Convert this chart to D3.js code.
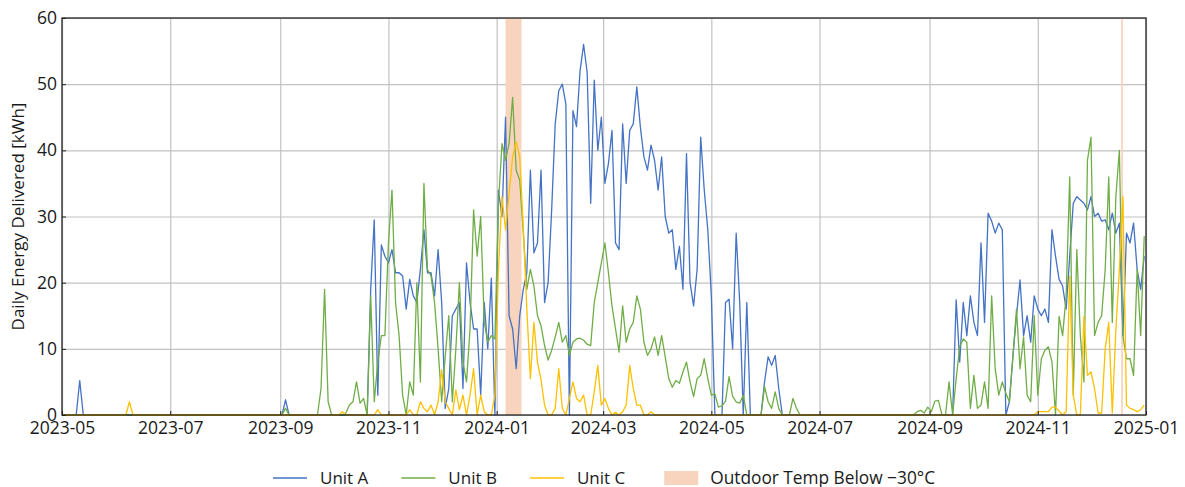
<!DOCTYPE html>
<html>
<head>
<meta charset="utf-8">
<script src="https://cdn.jsdelivr.net/npm/d3@7"></script>
<style>
    body { margin: 0; background: #fff; }
    text { font-family: "Open Sans", sans-serif; fill: #1a1a1a; }
</style>
</head>
<body>
<div id="chart"></div>
<script>
// daily energy, one value every 2 days starting 2023-05-01
const startDate = "2023-05-01";
const stepDays = 2;

const unitA = [
    0,0,0,0,0,5.2,0,0,0,0,
    0,0,0,0,0,0,0,0,0,0,
    0,0,0,0,0,0,0,0,0,0,
    0,0,0,0,0,0,0,0,0,0,
    0,0,0,0,0,0,0,0,0,0,
    0,0,0,0,0,0,0,0,0,0,
    0,0,0,2.3,0,0,0,0,0,0,
    0,0,0,0,0,0,0,0,0,0,
    0,0,0,0,0,0,0,19,29.5,3,
    25.7,24,23,25,21.5,21.5,21,16,20.5,18,
    17,22,28,21.5,21.5,18,25,17,1,4,
    15,16,17,4,23,17,13,13,3,17,
    10,20.7,0,34,30,45,15,13,7,15,
    19,21.5,37,24.5,26,37,17,20,31,44,
    49,50,47,0,46,43.6,52,56,51.8,32,
    50.6,40,45,35,38,43,26,25,44,35,
    43,44,49.6,43.5,39,37,40.8,38.5,34,39,
    30,27.5,28,22,25.5,19,39.5,20,16.5,22,
    42,34,28,18,0,0,0,17,17.5,10,
    27.5,17,0,17,0,0,0,0,5,8.8,
    7.5,9,4,0,0,0,0,0,0,0,
    0,0,0,0,0,0,0,0,0,0,
    0,0,0,0,0,0,0,0,0,0,
    0,0,0,0,0,0,0,0,0,0,
    0,0,0,0,0,0,0,0,0,0,
    0,0,17.4,8,17,12,18,14,12,26,
    14,30.5,29.3,27.5,29,28,0,2,9,15,
    20.4,12,15,11,18,16,15,16,14,28,
    24,20.5,19.5,16,24,32,33,32.5,32,31,
    33,30,30.5,29.3,29.5,28,30.5,27.5,29,12,
    27.5,26,29,22,19,24
];

const unitB = [
    0,0,0,0,0,0,0,0,0,0,
    0,0,0,0,0,0,0,0,0,0,
    0,0,0,0,0,0,0,0,0,0,
    0,0,0,0,0,0,0,0,0,0,
    0,0,0,0,0,0,0,0,0,0,
    0,0,0,0,0,0,0,0,0,0,
    0,0,0,1,0,0,0,0,0,0,
    0,0,0,4,19,2,0,0,0,0,
    0.3,1.5,2,5,1.8,2.5,0,18,2,8,
    12,12,26,34,17,12,3,0,5,3,
    20,5,35,22,21,17,10,2,8.8,15,
    2,10,20,8,5,13,31,24,30,14,
    11,12,11.5,32,41,38.5,41,48,37,35.5,
    27.5,19,22,19.5,15,13.5,10.5,8.3,9.8,11.8,
    14,11,12,9,11,11.5,11.6,11.3,10.7,10.5,
    17,20,23,26,21.5,16.5,13,9.5,16.5,11,
    13,14,18,16,11,9,10,11.8,9,12,
    8.8,5.5,4.2,5.2,4.8,6.5,8,5,2.8,5.5,
    6,8.5,5.5,3,3.2,1.2,1.4,2.1,5.8,2.8,
    2,1.8,3,0,0,0,0,0,4.3,2,
    1,3.5,1,0,0,0,2.5,1,0,0,
    0,0,0,0,0,0,0,0,0,0,
    0,0,0,0,0,0,0,0,0,0,
    0,0,0,0,0,0,0,0,0,0,
    0,0.5,0.7,0.3,1.2,0.5,2.1,2.2,0,0,
    5,0,5.5,10.3,11.5,11,1,6,1,1.5,
    5,1,18,7,3,5,3.3,2,8.8,16,
    7,11.8,3,2,15,3,8.5,9.8,10.3,8,
    0,14.9,12,18,36,3,25,12,5,38.5,
    42,12,14,15,22,36,14,33,40,12,
    8.5,8.5,6,22,12,27
];

const unitC = [
    0,0,0,0,0,0,0,0,0,0,
    0,0,0,0,0,0,0,0,0,2,
    0,0,0,0,0,0,0,0,0,0,
    0,0,0,0,0,0,0,0,0,0,
    0,0,0,0,0,0,0,0,0,0,
    0,0,0,0,0,0,0,0,0,0,
    0,0,0,0,0,0,0,0,0,0,
    0,0,0,0,0,0,0,0,0,0.5,
    0,0,0,0,0,0,0,0,0,0.8,
    0,0,0,0,0,0,0,0,0.8,0,
    0,2,1,0.5,1.5,0,2,6.8,2,1,
    0,3.8,0.8,3,0,3,7,0,3,0.5,
    0,0,3,22,33,28,33.5,39,41.3,39,
    28.5,16,5.5,14,8,5.3,1.5,0,0,1,
    7,1,0,2.5,5,2.5,2,3,0,0,
    3.5,7.5,1.5,2.5,1,0,0.4,0,0.5,1.5,
    7.5,4,1.5,1.5,0,0,0.5,0,0,0,
    0,0,0,0,0,0,0,0,0,0,
    0,0,0,0,0,0,0,0,0,0,
    0,0,0,0,0,0,0,0,0,0,
    0,0,0,0,0,0,0,0,0,0,
    0,0,0,0,0,0,0,0,0,0,
    0,0,0,0,0,0,0,0,0,0,
    0,0,0,0,0,0,0,0,0,0,
    0,0,0,0,0,0,0,0,0,0,
    0,0,0,0,0,0,0,0,0,0,
    0,0,0,0,0,0,0,0,0,0,
    0,0,0,0,0,0.5,0.5,0.5,0.5,1.2,
    1.2,0.6,0,0.5,21,3,0,0,14.9,6,
    6.5,4,0.3,0.3,10,14,0.3,12.8,22,33,
    1.5,1,0.8,0.5,0.8,1.5
];

const seriesNames = ["Unit A", "Unit B", "Unit C"];
const bandName = "Outdoor Temp Below \u221230\u00b0C";

// periods with outdoor temp below -30
const coldStart = ["2024-01-06", "2024-12-18"];
const coldEnd = ["2024-01-15", "2024-12-19"];

const xTickLabels = ["2023-05","2023-07","2023-09","2023-11","2024-01",
    "2024-03","2024-05","2024-07","2024-09","2024-11","2025-01"];
const yTicks = [0, 10, 20, 30, 40, 50, 60];

function energyChart(id){
    const colors = ["#4472c4", "#70ad47", "#ffc000"];
    const bandColor = "#f8d4bf";
    const W = 1185, H = 487,
        m = {t: 18, r: 39, b: 72, l: 62};
    const w = W - m.l - m.r, h = H - m.t - m.b;

    const parseDay = d3.utcParse("%Y-%m-%d"),
        parseMonth = d3.utcParse("%Y-%m");
    const start = parseDay(startDate);
    const xTicks = xTickLabels.map(parseMonth);

    const svg = d3.select(id).append("svg")
        .attr("width", W).attr("height", H);
    const g = svg.append("g").attr("transform", "translate(" + m.l + "," + m.t + ")");

    const x = d3.scaleUtc().domain([xTicks[0], xTicks[xTicks.length - 1]]).range([0, w]);
    const y = d3.scaleLinear().domain([0, 60]).range([h, 0]);

    // grid lines
    g.append("g").attr("class", "grid")
        .attr("transform", "translate(0," + h + ")")
        .call(d3.axisBottom(x).tickValues(xTicks).tickSize(-h).tickFormat(""));
    g.append("g").attr("class", "grid")
        .call(d3.axisLeft(y).tickValues(yTicks).tickSize(-w).tickFormat(""));
    g.selectAll(".grid .domain").remove();
    g.selectAll(".grid line").attr("stroke", "#c2c2c2").attr("stroke-width", 1.2);

    // cold periods
    g.selectAll(".cold").data(coldStart.map(function(s, i){ return [parseDay(s), parseDay(coldEnd[i])]; }))
        .enter().append("rect").attr("class", "cold")
        .attr("x", function(d){ return x(d[0]); })
        .attr("width", function(d){ return Math.max(1, x(d[1]) - x(d[0])); })
        .attr("y", 0).attr("height", h)
        .attr("fill", bandColor);

    // lines
    const series = [unitA, unitB, unitC].map(function(vals){
        return vals.map(function(v, i){ return {date: d3.utcDay.offset(start, i * stepDays), value: v}; });
    });
    const line = d3.line()
        .x(function(d){ return x(d.date); })
        .y(function(d){ return y(d.value); });
    g.selectAll(".series").data(series).enter().append("path")
        .attr("class", "series")
        .attr("d", line)
        .attr("fill", "none")
        .attr("stroke", function(d, i){ return colors[i]; })
        .attr("stroke-width", 1.3)
        .attr("stroke-linejoin", "round");

    // axes
    const xAxis = g.append("g")
        .attr("transform", "translate(0," + h + ")")
        .call(d3.axisBottom(x).tickValues(xTicks).tickSizeInner(-4).tickSizeOuter(0)
            .tickPadding(7).tickFormat(d3.utcFormat("%Y-%m")));
    const yAxis = g.append("g")
        .call(d3.axisLeft(y).tickValues(yTicks).tickSizeInner(-4).tickSizeOuter(0).tickPadding(5));
    [xAxis, yAxis].forEach(function(a){
        a.select(".domain").remove();
        a.selectAll(".tick line").attr("stroke", "#222");
        a.selectAll("text").style("font-size", "17.5px").attr("fill", "#1a1a1a");
    });

    // frame
    g.append("rect").attr("width", w).attr("height", h)
        .attr("fill", "none").attr("stroke", "#222").attr("stroke-width", 1.3);

    // y label
    svg.append("text")
        .attr("transform", "translate(24," + (m.t + h / 2) + ") rotate(-90)")
        .attr("text-anchor", "middle")
        .style("font-size", "17px")
        .text("Daily Energy Delivered [kWh]");

    // legend
    const leg = svg.append("g").attr("transform", "translate(273,478)");
    let cx = 0;
    seriesNames.forEach(function(name, i){
        leg.append("line").attr("x1", cx).attr("x2", cx + 34)
            .attr("stroke", colors[i]).attr("stroke-width", 1.5);
        const t = leg.append("text").attr("x", cx + 47).attr("dy", "0.35em")
            .style("font-size", "17px").text(name);
        cx += 47 + t.node().getComputedTextLength() + (i < 2 ? 33 : 39);
    });
    leg.append("rect").attr("x", cx).attr("y", -7).attr("width", 34).attr("height", 14)
        .attr("fill", bandColor);
    leg.append("text").attr("x", cx + 46).attr("dy", "0.35em")
        .style("font-size", "17.3px").text(bandName);
}

energyChart("#chart");
</script>
</body>
</html>
